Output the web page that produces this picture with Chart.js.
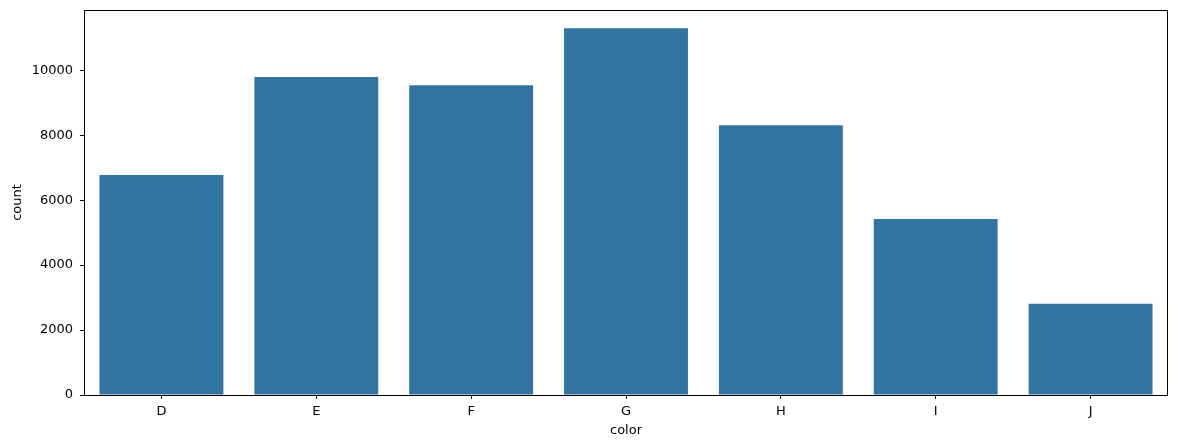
<!DOCTYPE html>
<html><head><meta charset="utf-8">
<script src="https://cdn.jsdelivr.net/npm/chart.js@4/dist/chart.umd.min.js"></script>
<style>html,body{margin:0;padding:0;background:#fff}#wrap{width:1178px;height:448px}</style>
</head><body><div id="wrap"><canvas id="c" width="1178" height="448"></canvas></div>
<script>
const categories = ['D','E','F','G','H','I','J'];
const counts = [6775, 9797, 9542, 11292, 8304, 5422, 2808];
const yTicks = [0, 2000, 4000, 6000, 8000, 10000];

const frame = {
  id: 'frame',
  afterDatasetsDraw(chart) {
    const {ctx, chartArea: a} = chart;
    ctx.save();
    ctx.strokeStyle = '#000';
    ctx.lineWidth = 1;
    ctx.strokeRect(Math.round(a.left)+0.5, Math.round(a.top)+0.5, Math.round(a.right-a.left)-1, Math.round(a.bottom-a.top));
    ctx.restore();
  }
};

new Chart(document.getElementById('c'), {
  type: 'bar',
  data: { labels: categories, datasets: [{ data: counts, backgroundColor: '#3274a1', borderWidth: 0, barPercentage: 0.8, categoryPercentage: 1.0 }] },
  options: {
    responsive: false, animation: false,
    layout: { padding: { left: 7, right: 10, top: 10, bottom: 8 } },
    plugins: { legend: { display: false }, tooltip: { enabled: false } },
    scales: {
      x: {
        offset: true,
        grid: { display: true, drawOnChartArea: false, drawTicks: true, tickLength: 4, color: '#000', offset: false },
        border: { display: false },
        ticks: { color: '#000', font: { family: 'DejaVu Sans', size: 13 }, padding: 5 },
        title: { display: true, text: 'color', color: '#000', font: { family: 'DejaVu Sans', size: 13 }, padding: { top: 0, bottom: 2 } },
        afterFit(s) { s.height = 45; s.paddingLeft = 0; s.paddingRight = 0; }
      },
      y: {
        min: 0, max: 11857,
        afterBuildTicks(s) { s.ticks = yTicks.map(v => ({ value: v })); },
        grid: { display: true, drawOnChartArea: false, drawTicks: true, tickLength: 4, color: '#000' },
        border: { display: false },
        ticks: { color: '#000', font: { family: 'DejaVu Sans', size: 13 }, padding: 7, callback: v => String(v) },
        title: { display: true, text: 'count', color: '#000', font: { family: 'DejaVu Sans', size: 13 }, padding: { top: 3, bottom: 0 } },
        afterFit(s) { s.width = 77; s.paddingTop = 0; s.paddingBottom = 0; }
      }
    }
  },
  plugins: [frame]
});
</script></body></html>
